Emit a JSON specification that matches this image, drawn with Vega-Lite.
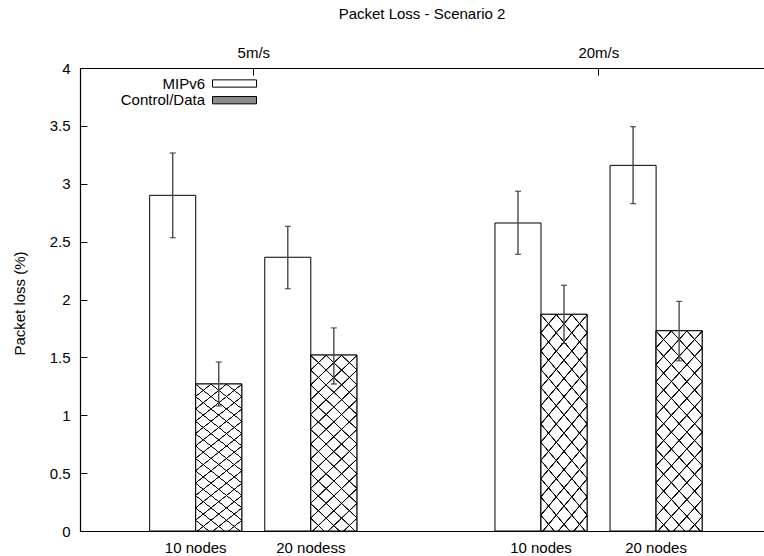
{
  "$schema": "https://vega.github.io/schema/vega-lite/v6.json",
  "autosize": {"type": "none"},
  "padding": {"left": 80, "top": 68, "right": 0, "bottom": 25},
  "width": 684,
  "height": 463,
  "title": {"text": "Packet Loss - Scenario 2", "fontSize": 15, "fontWeight": "normal", "font": "Liberation Sans", "color": "black", "anchor": "middle", "offset": 23},
  "data": {
    "values": [
      {"speed": "5m/s", "nodes": "10 nodes", "cluster": "5m/s|10 nodes", "series": "MIPv6", "value": 2.90, "lo": 2.534, "hi": 3.266},
      {"speed": "5m/s", "nodes": "10 nodes", "cluster": "5m/s|10 nodes", "series": "Control/Data", "value": 1.27, "lo": 1.08, "hi": 1.46},
      {"speed": "5m/s", "nodes": "20 nodess", "cluster": "5m/s|20 nodess", "series": "MIPv6", "value": 2.365, "lo": 2.093, "hi": 2.632},
      {"speed": "5m/s", "nodes": "20 nodess", "cluster": "5m/s|20 nodess", "series": "Control/Data", "value": 1.52, "lo": 1.27, "hi": 1.754},
      {"speed": "20m/s", "nodes": "10 nodes", "cluster": "20m/s|10 nodes", "series": "MIPv6", "value": 2.661, "lo": 2.39, "hi": 2.935},
      {"speed": "20m/s", "nodes": "10 nodes", "cluster": "20m/s|10 nodes", "series": "Control/Data", "value": 1.872, "lo": 1.62, "hi": 2.123},
      {"speed": "20m/s", "nodes": "20 nodes", "cluster": "20m/s|20 nodes", "series": "MIPv6", "value": 3.159, "lo": 2.828, "hi": 3.493},
      {"speed": "20m/s", "nodes": "20 nodes", "cluster": "20m/s|20 nodes", "series": "Control/Data", "value": 1.73, "lo": 1.47, "hi": 1.984}
    ]
  },
  "layer": [
    {
      "encoding": {
        "x": {
          "field": "cluster", "type": "nominal",
          "scale": {"domain": ["5m/s|10 nodes", "5m/s|20 nodess", "gap", "20m/s|10 nodes", "20m/s|20 nodes"], "paddingInner": 0.2, "paddingOuter": 0.5714, "align": 0.5297},
          "axis": {"title": null, "ticks": false, "labelAngle": 0, "labelPadding": 9, "labelBaseline": "top", "domainWidth": 1.2, "labelExpr": "datum.value == 'gap' ? '' : split(datum.value, '|')[1]"}
        },
        "xOffset": {"field": "series", "type": "nominal", "scale": {"domain": ["MIPv6", "Control/Data"], "paddingInner": 0, "paddingOuter": 0}}
      },
      "layer": [
        {
          "mark": {"type": "bar", "stroke": "black", "strokeWidth": 1},
          "encoding": {
            "y": {
              "field": "value", "type": "quantitative",
              "scale": {"domain": [0, 4], "nice": false, "zero": true},
              "title": "Packet loss (%)",
              "axis": {"values": [0, 0.5, 1, 1.5, 2, 2.5, 3, 3.5, 4], "format": "~g", "tickSize": -7, "labelPadding": 17, "domainWidth": 1.2, "titleX": -61, "titleY": 235, "titleAngle": 270, "titleBaseline": "middle", "titleAlign": "center"}
            },
            "fill": {
              "field": "series", "type": "nominal",
              "scale": {"domain": ["MIPv6", "Control/Data"], "range": ["#ffffff", "#8c8c8c"]},
              "legend": {"orient": "none", "legendX": 147, "legendY": 8, "title": null, "direction": "vertical", "padding": 0, "symbolType": "M-4.4,-0.73H4.4V0.73H-4.4Z", "symbolSize": 100, "symbolStrokeColor": "black", "symbolStrokeWidth": 1, "symbolOpacity": 1, "labelAlign": "right", "labelBaseline": "middle", "labelOffset": -37, "labelFontSize": 15, "labelFont": "Liberation Sans", "labelColor": "black", "rowPadding": 0.7}
            }
          }
        },
        {
          "transform": [{"filter": "datum.series == 'Control/Data'"}],
          "mark": {
            "type": "bar", "strokeWidth": 0,
            "fill": {"gradient": "linear", "x1": 0, "y1": 0, "x2": 1, "y2": 4, "stops": [
              {"offset": 0, "color": "#000000"}, {"offset": 0.0006, "color": "#000000"}, {"offset": 0.0013, "color": "#ffffff"},
              {"offset": 0.0185, "color": "#ffffff"}, {"offset": 0.0192, "color": "#000000"}, {"offset": 0.0204, "color": "#000000"}, {"offset": 0.0211, "color": "#ffffff"},
              {"offset": 0.0383, "color": "#ffffff"}, {"offset": 0.0390, "color": "#000000"}, {"offset": 0.0402, "color": "#000000"}, {"offset": 0.0409, "color": "#ffffff"},
              {"offset": 0.0581, "color": "#ffffff"}, {"offset": 0.0588, "color": "#000000"}, {"offset": 0.0600, "color": "#000000"}, {"offset": 0.0607, "color": "#ffffff"},
              {"offset": 0.0779, "color": "#ffffff"}, {"offset": 0.0786, "color": "#000000"}, {"offset": 0.0798, "color": "#000000"}, {"offset": 0.0805, "color": "#ffffff"},
              {"offset": 0.0977, "color": "#ffffff"}, {"offset": 0.0984, "color": "#000000"}, {"offset": 0.0996, "color": "#000000"}, {"offset": 0.1003, "color": "#ffffff"},
              {"offset": 0.1175, "color": "#ffffff"}, {"offset": 0.1182, "color": "#000000"}, {"offset": 0.1194, "color": "#000000"}, {"offset": 0.1201, "color": "#ffffff"},
              {"offset": 0.1373, "color": "#ffffff"}, {"offset": 0.1380, "color": "#000000"}, {"offset": 0.1392, "color": "#000000"}, {"offset": 0.1399, "color": "#ffffff"},
              {"offset": 0.1571, "color": "#ffffff"}, {"offset": 0.1578, "color": "#000000"}, {"offset": 0.1590, "color": "#000000"}, {"offset": 0.1597, "color": "#ffffff"},
              {"offset": 0.1769, "color": "#ffffff"}, {"offset": 0.1776, "color": "#000000"}, {"offset": 0.1788, "color": "#000000"}, {"offset": 0.1795, "color": "#ffffff"},
              {"offset": 0.1967, "color": "#ffffff"}, {"offset": 0.1974, "color": "#000000"}, {"offset": 0.1986, "color": "#000000"}, {"offset": 0.1993, "color": "#ffffff"},
              {"offset": 0.2165, "color": "#ffffff"}, {"offset": 0.2172, "color": "#000000"}, {"offset": 0.2184, "color": "#000000"}, {"offset": 0.2191, "color": "#ffffff"},
              {"offset": 0.2363, "color": "#ffffff"}, {"offset": 0.2370, "color": "#000000"}, {"offset": 0.2382, "color": "#000000"}, {"offset": 0.2389, "color": "#ffffff"},
              {"offset": 0.2561, "color": "#ffffff"}, {"offset": 0.2568, "color": "#000000"}, {"offset": 0.2580, "color": "#000000"}, {"offset": 0.2587, "color": "#ffffff"},
              {"offset": 0.2759, "color": "#ffffff"}, {"offset": 0.2766, "color": "#000000"}, {"offset": 0.2778, "color": "#000000"}, {"offset": 0.2785, "color": "#ffffff"},
              {"offset": 0.2957, "color": "#ffffff"}, {"offset": 0.2964, "color": "#000000"}, {"offset": 0.2976, "color": "#000000"}, {"offset": 0.2983, "color": "#ffffff"},
              {"offset": 1, "color": "#ffffff"}
            ]}
          },
          "encoding": {"y": {"field": "value", "type": "quantitative", "title": "Packet loss (%)"}}
        },
        {
          "transform": [{"filter": "datum.series == 'Control/Data'"}],
          "mark": {
            "type": "bar", "stroke": "black", "strokeWidth": 1,
            "fill": {"gradient": "linear", "x1": 1, "y1": 0, "x2": 0, "y2": 4, "stops": [
              {"offset": 0, "color": "rgba(0,0,0,1)"}, {"offset": 0.0006, "color": "rgba(0,0,0,1)"}, {"offset": 0.0013, "color": "rgba(255,255,255,0)"},
              {"offset": 0.0185, "color": "rgba(255,255,255,0)"}, {"offset": 0.0192, "color": "rgba(0,0,0,1)"}, {"offset": 0.0204, "color": "rgba(0,0,0,1)"}, {"offset": 0.0211, "color": "rgba(255,255,255,0)"},
              {"offset": 0.0383, "color": "rgba(255,255,255,0)"}, {"offset": 0.0390, "color": "rgba(0,0,0,1)"}, {"offset": 0.0402, "color": "rgba(0,0,0,1)"}, {"offset": 0.0409, "color": "rgba(255,255,255,0)"},
              {"offset": 0.0581, "color": "rgba(255,255,255,0)"}, {"offset": 0.0588, "color": "rgba(0,0,0,1)"}, {"offset": 0.0600, "color": "rgba(0,0,0,1)"}, {"offset": 0.0607, "color": "rgba(255,255,255,0)"},
              {"offset": 0.0779, "color": "rgba(255,255,255,0)"}, {"offset": 0.0786, "color": "rgba(0,0,0,1)"}, {"offset": 0.0798, "color": "rgba(0,0,0,1)"}, {"offset": 0.0805, "color": "rgba(255,255,255,0)"},
              {"offset": 0.0977, "color": "rgba(255,255,255,0)"}, {"offset": 0.0984, "color": "rgba(0,0,0,1)"}, {"offset": 0.0996, "color": "rgba(0,0,0,1)"}, {"offset": 0.1003, "color": "rgba(255,255,255,0)"},
              {"offset": 0.1175, "color": "rgba(255,255,255,0)"}, {"offset": 0.1182, "color": "rgba(0,0,0,1)"}, {"offset": 0.1194, "color": "rgba(0,0,0,1)"}, {"offset": 0.1201, "color": "rgba(255,255,255,0)"},
              {"offset": 0.1373, "color": "rgba(255,255,255,0)"}, {"offset": 0.1380, "color": "rgba(0,0,0,1)"}, {"offset": 0.1392, "color": "rgba(0,0,0,1)"}, {"offset": 0.1399, "color": "rgba(255,255,255,0)"},
              {"offset": 0.1571, "color": "rgba(255,255,255,0)"}, {"offset": 0.1578, "color": "rgba(0,0,0,1)"}, {"offset": 0.1590, "color": "rgba(0,0,0,1)"}, {"offset": 0.1597, "color": "rgba(255,255,255,0)"},
              {"offset": 0.1769, "color": "rgba(255,255,255,0)"}, {"offset": 0.1776, "color": "rgba(0,0,0,1)"}, {"offset": 0.1788, "color": "rgba(0,0,0,1)"}, {"offset": 0.1795, "color": "rgba(255,255,255,0)"},
              {"offset": 0.1967, "color": "rgba(255,255,255,0)"}, {"offset": 0.1974, "color": "rgba(0,0,0,1)"}, {"offset": 0.1986, "color": "rgba(0,0,0,1)"}, {"offset": 0.1993, "color": "rgba(255,255,255,0)"},
              {"offset": 0.2165, "color": "rgba(255,255,255,0)"}, {"offset": 0.2172, "color": "rgba(0,0,0,1)"}, {"offset": 0.2184, "color": "rgba(0,0,0,1)"}, {"offset": 0.2191, "color": "rgba(255,255,255,0)"},
              {"offset": 0.2363, "color": "rgba(255,255,255,0)"}, {"offset": 0.2370, "color": "rgba(0,0,0,1)"}, {"offset": 0.2382, "color": "rgba(0,0,0,1)"}, {"offset": 0.2389, "color": "rgba(255,255,255,0)"},
              {"offset": 0.2561, "color": "rgba(255,255,255,0)"}, {"offset": 0.2568, "color": "rgba(0,0,0,1)"}, {"offset": 0.2580, "color": "rgba(0,0,0,1)"}, {"offset": 0.2587, "color": "rgba(255,255,255,0)"},
              {"offset": 0.2759, "color": "rgba(255,255,255,0)"}, {"offset": 0.2766, "color": "rgba(0,0,0,1)"}, {"offset": 0.2778, "color": "rgba(0,0,0,1)"}, {"offset": 0.2785, "color": "rgba(255,255,255,0)"},
              {"offset": 0.2957, "color": "rgba(255,255,255,0)"}, {"offset": 0.2964, "color": "rgba(0,0,0,1)"}, {"offset": 0.2976, "color": "rgba(0,0,0,1)"}, {"offset": 0.2983, "color": "rgba(255,255,255,0)"},
              {"offset": 1, "color": "rgba(255,255,255,0)"}
            ]}
          },
          "encoding": {"y": {"field": "value", "type": "quantitative", "title": "Packet loss (%)"}}
        },
        {
          "mark": {"type": "rule", "color": "#4a4a4a", "strokeWidth": 1.4},
          "encoding": {"y": {"field": "lo", "type": "quantitative", "title": "Packet loss (%)"}, "y2": {"field": "hi"}}
        },
        {
          "mark": {"type": "tick", "color": "#222222", "size": 6, "thickness": 1.3},
          "encoding": {"y": {"field": "lo", "type": "quantitative", "title": "Packet loss (%)"}}
        },
        {
          "mark": {"type": "tick", "color": "#222222", "size": 6, "thickness": 1.3},
          "encoding": {"y": {"field": "hi", "type": "quantitative", "title": "Packet loss (%)"}}
        }
      ]
    },
    {
      "mark": {"type": "point", "opacity": 0},
      "encoding": {
        "x": {
          "field": "speed", "type": "nominal",
          "scale": {"type": "point", "domain": ["5m/s", "20m/s"], "padding": 0.4913, "align": 0.5112},
          "axis": {"orient": "top", "title": null, "tickSize": -7, "labelPadding": 15, "labelAngle": 0, "domainWidth": 1.2}
        }
      }
    }
  ],
  "resolve": {"scale": {"x": "independent"}, "axis": {"x": "independent"}},
  "config": {
    "view": {"stroke": null},
    "font": "Liberation Sans",
    "axis": {"labelFont": "Liberation Sans", "labelFontSize": 15, "labelColor": "black", "domainColor": "black", "tickColor": "black", "grid": false, "titleFont": "Liberation Sans", "titleFontSize": 15, "titleFontWeight": "normal", "titleColor": "black"}
  }
}
